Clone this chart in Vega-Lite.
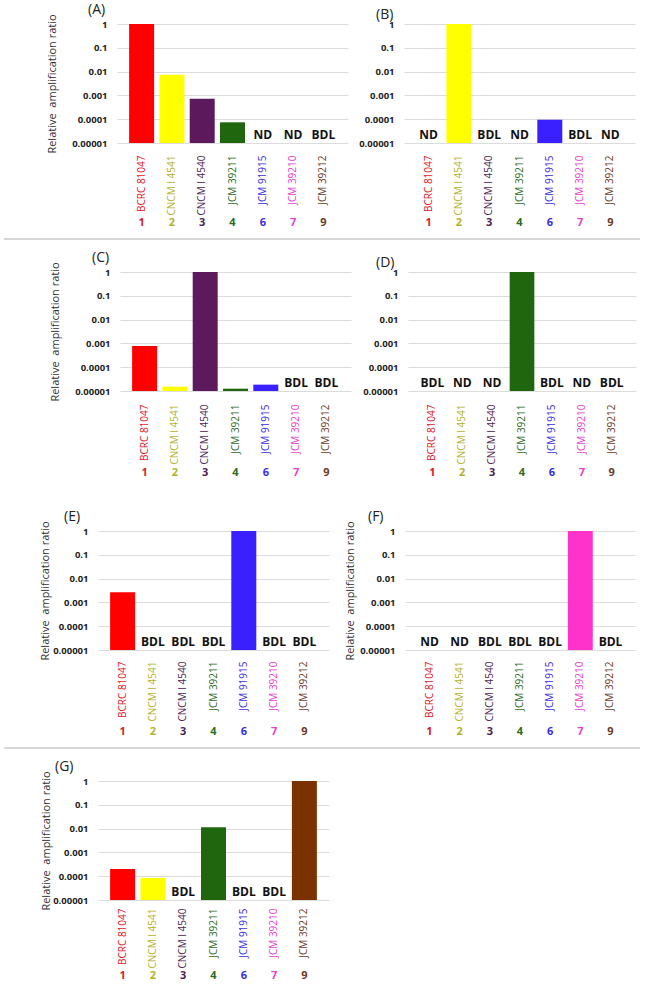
{
  "$schema": "https://vega.github.io/schema/vega-lite/v6.json",
  "padding": {"left": 3, "top": 2, "right": 4, "bottom": 0},
  "config": {"view": {"stroke": null}, "font": "Open Sans"},
  "data": {"values": [
    {"panel": "A", "strain": "BCRC 81047", "num": "1", "value": 1, "status": ""},
    {"panel": "A", "strain": "CNCM I 4541", "num": "2", "value": 0.0074, "status": ""},
    {"panel": "A", "strain": "CNCM I 4540", "num": "3", "value": 0.00072, "status": ""},
    {"panel": "A", "strain": "JCM 39211", "num": "4", "value": 0.000074, "status": ""},
    {"panel": "A", "strain": "JCM 91915", "num": "6", "value": null, "status": "ND"},
    {"panel": "A", "strain": "JCM 39210", "num": "7", "value": null, "status": "ND"},
    {"panel": "A", "strain": "JCM 39212", "num": "9", "value": null, "status": "BDL"},
    {"panel": "B", "strain": "BCRC 81047", "num": "1", "value": null, "status": "ND"},
    {"panel": "B", "strain": "CNCM I 4541", "num": "2", "value": 1, "status": ""},
    {"panel": "B", "strain": "CNCM I 4540", "num": "3", "value": null, "status": "BDL"},
    {"panel": "B", "strain": "JCM 39211", "num": "4", "value": null, "status": "ND"},
    {"panel": "B", "strain": "JCM 91915", "num": "6", "value": 0.000095, "status": ""},
    {"panel": "B", "strain": "JCM 39210", "num": "7", "value": null, "status": "BDL"},
    {"panel": "B", "strain": "JCM 39212", "num": "9", "value": null, "status": "ND"},
    {"panel": "C", "strain": "BCRC 81047", "num": "1", "value": 0.00078, "status": ""},
    {"panel": "C", "strain": "CNCM I 4541", "num": "2", "value": 0.0000152, "status": ""},
    {"panel": "C", "strain": "CNCM I 4540", "num": "3", "value": 1, "status": ""},
    {"panel": "C", "strain": "JCM 39211", "num": "4", "value": 0.0000125, "status": ""},
    {"panel": "C", "strain": "JCM 91915", "num": "6", "value": 0.0000185, "status": ""},
    {"panel": "C", "strain": "JCM 39210", "num": "7", "value": null, "status": "BDL"},
    {"panel": "C", "strain": "JCM 39212", "num": "9", "value": null, "status": "BDL"},
    {"panel": "D", "strain": "BCRC 81047", "num": "1", "value": null, "status": "BDL"},
    {"panel": "D", "strain": "CNCM I 4541", "num": "2", "value": null, "status": "ND"},
    {"panel": "D", "strain": "CNCM I 4540", "num": "3", "value": null, "status": "ND"},
    {"panel": "D", "strain": "JCM 39211", "num": "4", "value": 1, "status": ""},
    {"panel": "D", "strain": "JCM 91915", "num": "6", "value": null, "status": "BDL"},
    {"panel": "D", "strain": "JCM 39210", "num": "7", "value": null, "status": "ND"},
    {"panel": "D", "strain": "JCM 39212", "num": "9", "value": null, "status": "BDL"},
    {"panel": "E", "strain": "BCRC 81047", "num": "1", "value": 0.0027, "status": ""},
    {"panel": "E", "strain": "CNCM I 4541", "num": "2", "value": null, "status": "BDL"},
    {"panel": "E", "strain": "CNCM I 4540", "num": "3", "value": null, "status": "BDL"},
    {"panel": "E", "strain": "JCM 39211", "num": "4", "value": null, "status": "BDL"},
    {"panel": "E", "strain": "JCM 91915", "num": "6", "value": 1, "status": ""},
    {"panel": "E", "strain": "JCM 39210", "num": "7", "value": null, "status": "BDL"},
    {"panel": "E", "strain": "JCM 39212", "num": "9", "value": null, "status": "BDL"},
    {"panel": "F", "strain": "BCRC 81047", "num": "1", "value": null, "status": "ND"},
    {"panel": "F", "strain": "CNCM I 4541", "num": "2", "value": null, "status": "ND"},
    {"panel": "F", "strain": "CNCM I 4540", "num": "3", "value": null, "status": "BDL"},
    {"panel": "F", "strain": "JCM 39211", "num": "4", "value": null, "status": "BDL"},
    {"panel": "F", "strain": "JCM 91915", "num": "6", "value": null, "status": "BDL"},
    {"panel": "F", "strain": "JCM 39210", "num": "7", "value": 1, "status": ""},
    {"panel": "F", "strain": "JCM 39212", "num": "9", "value": null, "status": "BDL"},
    {"panel": "G", "strain": "BCRC 81047", "num": "1", "value": 0.0002, "status": ""},
    {"panel": "G", "strain": "CNCM I 4541", "num": "2", "value": 0.000085, "status": ""},
    {"panel": "G", "strain": "CNCM I 4540", "num": "3", "value": null, "status": "BDL"},
    {"panel": "G", "strain": "JCM 39211", "num": "4", "value": 0.0115, "status": ""},
    {"panel": "G", "strain": "JCM 91915", "num": "6", "value": null, "status": "BDL"},
    {"panel": "G", "strain": "JCM 39210", "num": "7", "value": null, "status": "BDL"},
    {"panel": "G", "strain": "JCM 39212", "num": "9", "value": 1, "status": ""}
  ]},
  "align": "none",
  "spacing": 31,
  "vconcat": [
    {
      "align": "none",
      "spacing": 10,
      "vconcat": [
        {
          "align": "none", "bounds": "flush", "spacing": 0,
          "hconcat": [
            {"width": 19, "height": 119, "data": {"values": []}, "mark": "point", "encoding": {}},
            {
              "align": "none", "bounds": "flush", "spacing": 56,
              "hconcat": [
                {
                  "width": 231, "height": 119,
                  "transform": [{"filter": "datum.panel == 'A'"}],
                  "title": {"text": "(A)", "anchor": "start", "frame": "group", "dx": -29, "offset": -3, "fontSize": 14, "fontWeight": "normal", "color": "#222"},
                  "encoding": {"x": {"field": "strain", "type": "nominal", "sort": ["BCRC 81047", "CNCM I 4541", "CNCM I 4540", "JCM 39211", "JCM 91915", "JCM 39210", "JCM 39212"], "scale": {"paddingInner": 0.175, "paddingOuter": 0.4}, "axis": {"title": null, "labelAngle": -90, "labelAlign": "right", "labelBaseline": "middle", "labelPadding": 12, "domain": false, "ticks": false, "labelFontSize": 10, "labelColor": {"expr": "datum.value == 'BCRC 81047' ? '#e0161f' : datum.value == 'CNCM I 4541' ? '#b3b32b' : datum.value == 'CNCM I 4540' ? '#4e1f52' : datum.value == 'JCM 39211' ? '#2e6b1e' : datum.value == 'JCM 91915' ? '#3a2de0' : datum.value == 'JCM 39210' ? '#e63dcf' : '#6b3a24'"}}}},
                  "resolve": {"scale": {"color": "independent"}},
                  "layer": [
                    {"mark": {"type": "bar"}, "encoding": {
                      "y": {"field": "value", "type": "quantitative", "stack": null, "scale": {"type": "log", "domain": [0.00001, 1]}, "axis": {"title": "Relative\u00a0 amplification ratio", "values": [0.00001, 0.0001, 0.001, 0.01, 0.1, 1], "format": "~f", "gridColor": "#dcdcdc", "domain": false, "ticks": false, "tickSize": 0, "labelPadding": 10, "labelFontSize": 9.5, "labelFontWeight": "bold", "labelColor": "#222", "titleFontSize": 11, "titleFontWeight": "normal", "titleColor": "#333", "titlePadding": 14}},
                      "color": {"field": "strain", "type": "nominal", "scale": {"domain": ["BCRC 81047", "CNCM I 4541", "CNCM I 4540", "JCM 39211", "JCM 91915", "JCM 39210", "JCM 39212"], "range": ["#ff0000", "#ffff00", "#5c1a5c", "#1f660f", "#3a1fff", "#ff33cc", "#7a3300"]}, "legend": null}}},
                    {"transform": [{"filter": "datum.status != ''"}], "mark": {"type": "text", "baseline": "bottom", "dy": -1, "fontWeight": "bold", "fontSize": 12, "color": "#111"}, "encoding": {"y": {"datum": 0.00001, "type": "quantitative"}, "text": {"field": "status"}}},
                    {"mark": {"type": "text", "baseline": "middle", "dy": 80, "fontWeight": "bold", "fontSize": 11}, "encoding": {"y": {"datum": 0.00001, "type": "quantitative"}, "text": {"field": "num"}, "color": {"field": "num", "type": "nominal", "scale": {"domain": ["1", "2", "3", "4", "6", "7", "9"], "range": ["#e0161f", "#b3b32b", "#4e1f52", "#2e6b1e", "#3a2de0", "#e63dcf", "#6b3a24"]}, "legend": null}}}
                  ]
                },
                {
                  "width": 231, "height": 119,
                  "transform": [{"filter": "datum.panel == 'B'"}],
                  "title": {"text": "(B)", "anchor": "start", "frame": "group", "dx": -28, "offset": -3, "fontSize": 14, "fontWeight": "normal", "color": "#222"},
                  "encoding": {"x": {"field": "strain", "type": "nominal", "sort": ["BCRC 81047", "CNCM I 4541", "CNCM I 4540", "JCM 39211", "JCM 91915", "JCM 39210", "JCM 39212"], "scale": {"paddingInner": 0.175, "paddingOuter": 0.4}, "axis": {"title": null, "labelAngle": -90, "labelAlign": "right", "labelBaseline": "middle", "labelPadding": 12, "domain": false, "ticks": false, "labelFontSize": 10, "labelColor": {"expr": "datum.value == 'BCRC 81047' ? '#e0161f' : datum.value == 'CNCM I 4541' ? '#b3b32b' : datum.value == 'CNCM I 4540' ? '#4e1f52' : datum.value == 'JCM 39211' ? '#2e6b1e' : datum.value == 'JCM 91915' ? '#3a2de0' : datum.value == 'JCM 39210' ? '#e63dcf' : '#6b3a24'"}}}},
                  "resolve": {"scale": {"color": "independent"}},
                  "layer": [
                    {"mark": {"type": "bar"}, "encoding": {
                      "y": {"field": "value", "type": "quantitative", "stack": null, "scale": {"type": "log", "domain": [0.00001, 1]}, "axis": {"title": null, "values": [0.00001, 0.0001, 0.001, 0.01, 0.1, 1], "format": "~f", "gridColor": "#dcdcdc", "domain": false, "ticks": false, "tickSize": 0, "labelPadding": 10, "labelFontSize": 9.5, "labelFontWeight": "bold", "labelColor": "#222"}},
                      "color": {"field": "strain", "type": "nominal", "scale": {"domain": ["BCRC 81047", "CNCM I 4541", "CNCM I 4540", "JCM 39211", "JCM 91915", "JCM 39210", "JCM 39212"], "range": ["#ff0000", "#ffff00", "#5c1a5c", "#1f660f", "#3a1fff", "#ff33cc", "#7a3300"]}, "legend": null}}},
                    {"transform": [{"filter": "datum.status != ''"}], "mark": {"type": "text", "baseline": "bottom", "dy": -1, "fontWeight": "bold", "fontSize": 12, "color": "#111"}, "encoding": {"y": {"datum": 0.00001, "type": "quantitative"}, "text": {"field": "status"}}},
                    {"mark": {"type": "text", "baseline": "middle", "dy": 80, "fontWeight": "bold", "fontSize": 11}, "encoding": {"y": {"datum": 0.00001, "type": "quantitative"}, "text": {"field": "num"}, "color": {"field": "num", "type": "nominal", "scale": {"domain": ["1", "2", "3", "4", "6", "7", "9"], "range": ["#e0161f", "#b3b32b", "#4e1f52", "#2e6b1e", "#3a2de0", "#e63dcf", "#6b3a24"]}, "legend": null}}}
                  ]
                }
              ]
            }
          ]
        },
        {
          "width": 542, "height": 1,
          "data": {"values": [{}]},
          "mark": {"type": "rule", "color": "#b0b0b0", "strokeWidth": 1.2},
          "encoding": {
            "x": {"datum": -0.1734, "type": "quantitative", "scale": {"domain": [0, 1]}, "axis": null},
            "x2": {"datum": 1},
            "y": {"datum": 0, "type": "quantitative", "scale": {"domain": [0, 1]}, "axis": null}
          }
        },
        {
          "align": "none", "bounds": "flush", "spacing": 0,
          "hconcat": [
            {"width": 22, "height": 119, "data": {"values": []}, "mark": "point", "encoding": {}},
            {
              "align": "none", "bounds": "flush", "spacing": 57,
              "hconcat": [
                {
                  "width": 231, "height": 119,
                  "transform": [{"filter": "datum.panel == 'C'"}],
                  "title": {"text": "(C)", "anchor": "start", "frame": "group", "dx": -28, "offset": -3, "fontSize": 14, "fontWeight": "normal", "color": "#222"},
                  "encoding": {"x": {"field": "strain", "type": "nominal", "sort": ["BCRC 81047", "CNCM I 4541", "CNCM I 4540", "JCM 39211", "JCM 91915", "JCM 39210", "JCM 39212"], "scale": {"paddingInner": 0.175, "paddingOuter": 0.4}, "axis": {"title": null, "labelAngle": -90, "labelAlign": "right", "labelBaseline": "middle", "labelPadding": 13, "domain": false, "ticks": false, "labelFontSize": 10, "labelColor": {"expr": "datum.value == 'BCRC 81047' ? '#e0161f' : datum.value == 'CNCM I 4541' ? '#b3b32b' : datum.value == 'CNCM I 4540' ? '#4e1f52' : datum.value == 'JCM 39211' ? '#2e6b1e' : datum.value == 'JCM 91915' ? '#3a2de0' : datum.value == 'JCM 39210' ? '#e63dcf' : '#6b3a24'"}}}},
                  "resolve": {"scale": {"color": "independent"}},
                  "layer": [
                    {"mark": {"type": "bar"}, "encoding": {
                      "y": {"field": "value", "type": "quantitative", "stack": null, "scale": {"type": "log", "domain": [0.00001, 1]}, "axis": {"title": "Relative\u00a0 amplification ratio", "values": [0.00001, 0.0001, 0.001, 0.01, 0.1, 1], "format": "~f", "gridColor": "#dcdcdc", "domain": false, "ticks": false, "tickSize": 0, "labelPadding": 10, "labelFontSize": 9.5, "labelFontWeight": "bold", "labelColor": "#222", "titleFontSize": 11, "titleFontWeight": "normal", "titleColor": "#333", "titlePadding": 14}},
                      "color": {"field": "strain", "type": "nominal", "scale": {"domain": ["BCRC 81047", "CNCM I 4541", "CNCM I 4540", "JCM 39211", "JCM 91915", "JCM 39210", "JCM 39212"], "range": ["#ff0000", "#ffff00", "#5c1a5c", "#1f660f", "#3a1fff", "#ff33cc", "#7a3300"]}, "legend": null}}},
                    {"transform": [{"filter": "datum.status != ''"}], "mark": {"type": "text", "baseline": "bottom", "dy": -1, "fontWeight": "bold", "fontSize": 12, "color": "#111"}, "encoding": {"y": {"datum": 0.00001, "type": "quantitative"}, "text": {"field": "status"}}},
                    {"mark": {"type": "text", "baseline": "middle", "dy": 82, "fontWeight": "bold", "fontSize": 11}, "encoding": {"y": {"datum": 0.00001, "type": "quantitative"}, "text": {"field": "num"}, "color": {"field": "num", "type": "nominal", "scale": {"domain": ["1", "2", "3", "4", "6", "7", "9"], "range": ["#e0161f", "#b3b32b", "#4e1f52", "#2e6b1e", "#3a2de0", "#e63dcf", "#6b3a24"]}, "legend": null}}}
                  ]
                },
                {
                  "width": 228, "height": 119,
                  "transform": [{"filter": "datum.panel == 'D'"}],
                  "title": {"text": "(D)", "anchor": "start", "frame": "group", "dx": -32, "offset": -3, "fontSize": 14, "fontWeight": "normal", "color": "#222"},
                  "encoding": {"x": {"field": "strain", "type": "nominal", "sort": ["BCRC 81047", "CNCM I 4541", "CNCM I 4540", "JCM 39211", "JCM 91915", "JCM 39210", "JCM 39212"], "scale": {"paddingInner": 0.175, "paddingOuter": 0.4}, "axis": {"title": null, "labelAngle": -90, "labelAlign": "right", "labelBaseline": "middle", "labelPadding": 13, "domain": false, "ticks": false, "labelFontSize": 10, "labelColor": {"expr": "datum.value == 'BCRC 81047' ? '#e0161f' : datum.value == 'CNCM I 4541' ? '#b3b32b' : datum.value == 'CNCM I 4540' ? '#4e1f52' : datum.value == 'JCM 39211' ? '#2e6b1e' : datum.value == 'JCM 91915' ? '#3a2de0' : datum.value == 'JCM 39210' ? '#e63dcf' : '#6b3a24'"}}}},
                  "resolve": {"scale": {"color": "independent"}},
                  "layer": [
                    {"mark": {"type": "bar"}, "encoding": {
                      "y": {"field": "value", "type": "quantitative", "stack": null, "scale": {"type": "log", "domain": [0.00001, 1]}, "axis": {"title": null, "values": [0.00001, 0.0001, 0.001, 0.01, 0.1, 1], "format": "~f", "gridColor": "#dcdcdc", "domain": false, "ticks": false, "tickSize": 0, "labelPadding": 10, "labelFontSize": 9.5, "labelFontWeight": "bold", "labelColor": "#222"}},
                      "color": {"field": "strain", "type": "nominal", "scale": {"domain": ["BCRC 81047", "CNCM I 4541", "CNCM I 4540", "JCM 39211", "JCM 91915", "JCM 39210", "JCM 39212"], "range": ["#ff0000", "#ffff00", "#5c1a5c", "#1f660f", "#3a1fff", "#ff33cc", "#7a3300"]}, "legend": null}}},
                    {"transform": [{"filter": "datum.status != ''"}], "mark": {"type": "text", "baseline": "bottom", "dy": -1, "fontWeight": "bold", "fontSize": 12, "color": "#111"}, "encoding": {"y": {"datum": 0.00001, "type": "quantitative"}, "text": {"field": "status"}}},
                    {"mark": {"type": "text", "baseline": "middle", "dy": 82, "fontWeight": "bold", "fontSize": 11}, "encoding": {"y": {"datum": 0.00001, "type": "quantitative"}, "text": {"field": "num"}, "color": {"field": "num", "type": "nominal", "scale": {"domain": ["1", "2", "3", "4", "6", "7", "9"], "range": ["#e0161f", "#b3b32b", "#4e1f52", "#2e6b1e", "#3a2de0", "#e63dcf", "#6b3a24"]}, "legend": null}}}
                  ]
                }
              ]
            }
          ]
        }
      ]
    },
    {
      "align": "none",
      "spacing": 10,
      "vconcat": [
        {
          "align": "none",
          "bounds": "flush",
          "spacing": 76,
          "hconcat": [
            {
              "width": 231, "height": 119,
              "transform": [{"filter": "datum.panel == 'E'"}],
              "title": {"text": "(E)", "anchor": "start", "frame": "group", "dx": -34, "offset": -3, "fontSize": 14, "fontWeight": "normal", "color": "#222"},
              "encoding": {"x": {"field": "strain", "type": "nominal", "sort": ["BCRC 81047", "CNCM I 4541", "CNCM I 4540", "JCM 39211", "JCM 91915", "JCM 39210", "JCM 39212"], "scale": {"paddingInner": 0.175, "paddingOuter": 0.4}, "axis": {"title": null, "labelAngle": -90, "labelAlign": "right", "labelBaseline": "middle", "labelPadding": 11, "domain": false, "ticks": false, "labelFontSize": 10, "labelColor": {"expr": "datum.value == 'BCRC 81047' ? '#e0161f' : datum.value == 'CNCM I 4541' ? '#b3b32b' : datum.value == 'CNCM I 4540' ? '#4e1f52' : datum.value == 'JCM 39211' ? '#2e6b1e' : datum.value == 'JCM 91915' ? '#3a2de0' : datum.value == 'JCM 39210' ? '#e63dcf' : '#6b3a24'"}}}},
              "resolve": {"scale": {"color": "independent"}},
              "layer": [
                {"mark": {"type": "bar"}, "encoding": {
                  "y": {"field": "value", "type": "quantitative", "stack": null, "scale": {"type": "log", "domain": [0.00001, 1]}, "axis": {"title": "Relative\u00a0 amplification ratio", "values": [0.00001, 0.0001, 0.001, 0.01, 0.1, 1], "format": "~f", "gridColor": "#dcdcdc", "domain": false, "ticks": false, "tickSize": 0, "labelPadding": 10, "labelFontSize": 9.5, "labelFontWeight": "bold", "labelColor": "#222", "titleFontSize": 11, "titleFontWeight": "normal", "titleColor": "#333", "titlePadding": 2}},
                  "color": {"field": "strain", "type": "nominal", "scale": {"domain": ["BCRC 81047", "CNCM I 4541", "CNCM I 4540", "JCM 39211", "JCM 91915", "JCM 39210", "JCM 39212"], "range": ["#ff0000", "#ffff00", "#5c1a5c", "#1f660f", "#3a1fff", "#ff33cc", "#7a3300"]}, "legend": null}}},
                {"transform": [{"filter": "datum.status != ''"}], "mark": {"type": "text", "baseline": "bottom", "dy": -1, "fontWeight": "bold", "fontSize": 12, "color": "#111"}, "encoding": {"y": {"datum": 0.00001, "type": "quantitative"}, "text": {"field": "status"}}},
                {"mark": {"type": "text", "baseline": "middle", "dy": 82, "fontWeight": "bold", "fontSize": 11}, "encoding": {"y": {"datum": 0.00001, "type": "quantitative"}, "text": {"field": "num"}, "color": {"field": "num", "type": "nominal", "scale": {"domain": ["1", "2", "3", "4", "6", "7", "9"], "range": ["#e0161f", "#b3b32b", "#4e1f52", "#2e6b1e", "#3a2de0", "#e63dcf", "#6b3a24"]}, "legend": null}}}
              ]
            },
            {
              "width": 230, "height": 119,
              "transform": [{"filter": "datum.panel == 'F'"}],
              "title": {"text": "(F)", "anchor": "start", "frame": "group", "dx": -37, "offset": -3, "fontSize": 14, "fontWeight": "normal", "color": "#222"},
              "encoding": {"x": {"field": "strain", "type": "nominal", "sort": ["BCRC 81047", "CNCM I 4541", "CNCM I 4540", "JCM 39211", "JCM 91915", "JCM 39210", "JCM 39212"], "scale": {"paddingInner": 0.175, "paddingOuter": 0.4}, "axis": {"title": null, "labelAngle": -90, "labelAlign": "right", "labelBaseline": "middle", "labelPadding": 11, "domain": false, "ticks": false, "labelFontSize": 10, "labelColor": {"expr": "datum.value == 'BCRC 81047' ? '#e0161f' : datum.value == 'CNCM I 4541' ? '#b3b32b' : datum.value == 'CNCM I 4540' ? '#4e1f52' : datum.value == 'JCM 39211' ? '#2e6b1e' : datum.value == 'JCM 91915' ? '#3a2de0' : datum.value == 'JCM 39210' ? '#e63dcf' : '#6b3a24'"}}}},
              "resolve": {"scale": {"color": "independent"}},
              "layer": [
                {"mark": {"type": "bar"}, "encoding": {
                  "y": {"field": "value", "type": "quantitative", "stack": null, "scale": {"type": "log", "domain": [0.00001, 1]}, "axis": {"title": "Relative\u00a0 amplification ratio", "values": [0.00001, 0.0001, 0.001, 0.01, 0.1, 1], "format": "~f", "gridColor": "#dcdcdc", "domain": false, "ticks": false, "tickSize": 0, "labelPadding": 10, "labelFontSize": 9.5, "labelFontWeight": "bold", "labelColor": "#222", "titleFontSize": 11, "titleFontWeight": "normal", "titleColor": "#333", "titlePadding": 4}},
                  "color": {"field": "strain", "type": "nominal", "scale": {"domain": ["BCRC 81047", "CNCM I 4541", "CNCM I 4540", "JCM 39211", "JCM 91915", "JCM 39210", "JCM 39212"], "range": ["#ff0000", "#ffff00", "#5c1a5c", "#1f660f", "#3a1fff", "#ff33cc", "#7a3300"]}, "legend": null}}},
                {"transform": [{"filter": "datum.status != ''"}], "mark": {"type": "text", "baseline": "bottom", "dy": -1, "fontWeight": "bold", "fontSize": 12, "color": "#111"}, "encoding": {"y": {"datum": 0.00001, "type": "quantitative"}, "text": {"field": "status"}}},
                {"mark": {"type": "text", "baseline": "middle", "dy": 82, "fontWeight": "bold", "fontSize": 11}, "encoding": {"y": {"datum": 0.00001, "type": "quantitative"}, "text": {"field": "num"}, "color": {"field": "num", "type": "nominal", "scale": {"domain": ["1", "2", "3", "4", "6", "7", "9"], "range": ["#e0161f", "#b3b32b", "#4e1f52", "#2e6b1e", "#3a2de0", "#e63dcf", "#6b3a24"]}, "legend": null}}}
              ]
            }
          ]
        },
        {
          "width": 542, "height": 1,
          "data": {"values": [{}]},
          "mark": {"type": "rule", "color": "#b0b0b0", "strokeWidth": 1.2},
          "encoding": {
            "x": {"datum": -0.1734, "type": "quantitative", "scale": {"domain": [0, 1]}, "axis": null},
            "x2": {"datum": 1},
            "y": {"datum": 0, "type": "quantitative", "scale": {"domain": [0, 1]}, "axis": null}
          }
        },
        {
          "width": 231, "height": 119,
          "transform": [{"filter": "datum.panel == 'G'"}],
          "title": {"text": "(G)", "anchor": "start", "frame": "group", "dx": -43, "offset": -3, "fontSize": 14, "fontWeight": "normal", "color": "#222"},
          "encoding": {"x": {"field": "strain", "type": "nominal", "sort": ["BCRC 81047", "CNCM I 4541", "CNCM I 4540", "JCM 39211", "JCM 91915", "JCM 39210", "JCM 39212"], "scale": {"paddingInner": 0.175, "paddingOuter": 0.4}, "axis": {"title": null, "labelAngle": -90, "labelAlign": "right", "labelBaseline": "middle", "labelPadding": 8, "domain": false, "ticks": false, "labelFontSize": 10, "labelColor": {"expr": "datum.value == 'BCRC 81047' ? '#e0161f' : datum.value == 'CNCM I 4541' ? '#b3b32b' : datum.value == 'CNCM I 4540' ? '#4e1f52' : datum.value == 'JCM 39211' ? '#2e6b1e' : datum.value == 'JCM 91915' ? '#3a2de0' : datum.value == 'JCM 39210' ? '#e63dcf' : '#6b3a24'"}}}},
          "resolve": {"scale": {"color": "independent"}},
          "layer": [
            {"mark": {"type": "bar"}, "encoding": {
              "y": {"field": "value", "type": "quantitative", "stack": null, "scale": {"type": "log", "domain": [0.00001, 1]}, "axis": {"title": "Relative\u00a0 amplification ratio", "values": [0.00001, 0.0001, 0.001, 0.01, 0.1, 1], "format": "~f", "gridColor": "#dcdcdc", "domain": false, "ticks": false, "tickSize": 0, "labelPadding": 10, "labelFontSize": 9.5, "labelFontWeight": "bold", "labelColor": "#222", "titleFontSize": 11, "titleFontWeight": "normal", "titleColor": "#333", "titlePadding": 1}},
              "color": {"field": "strain", "type": "nominal", "scale": {"domain": ["BCRC 81047", "CNCM I 4541", "CNCM I 4540", "JCM 39211", "JCM 91915", "JCM 39210", "JCM 39212"], "range": ["#ff0000", "#ffff00", "#5c1a5c", "#1f660f", "#3a1fff", "#ff33cc", "#7a3300"]}, "legend": null}}},
            {"transform": [{"filter": "datum.status != ''"}], "mark": {"type": "text", "baseline": "bottom", "dy": -1, "fontWeight": "bold", "fontSize": 12, "color": "#111"}, "encoding": {"y": {"datum": 0.00001, "type": "quantitative"}, "text": {"field": "status"}}},
            {"mark": {"type": "text", "baseline": "middle", "dy": 76, "fontWeight": "bold", "fontSize": 11}, "encoding": {"y": {"datum": 0.00001, "type": "quantitative"}, "text": {"field": "num"}, "color": {"field": "num", "type": "nominal", "scale": {"domain": ["1", "2", "3", "4", "6", "7", "9"], "range": ["#e0161f", "#b3b32b", "#4e1f52", "#2e6b1e", "#3a2de0", "#e63dcf", "#6b3a24"]}, "legend": null}}}
          ]
        }
      ]
    }
  ]
}
